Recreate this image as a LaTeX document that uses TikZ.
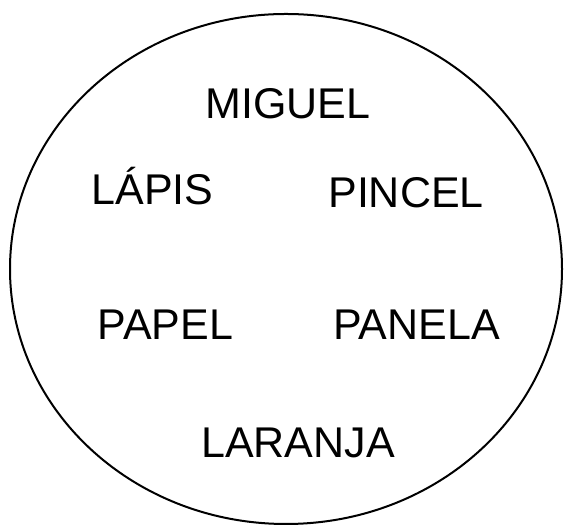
\documentclass[tikz,border=0pt]{standalone}
\usepackage{fontspec}
\setmainfont{Liberation Sans}
\begin{document}
\begin{tikzpicture}[x=1pt,y=1pt,
  word/.style={anchor=base,inner sep=0pt,font=\fontsize{43}{50}\selectfont}]
\useasboundingbox (0,0) rectangle (565,526);
\draw[line width=2pt] (286,257) ellipse [x radius=276, y radius=255];
\node[word] (miguel) at (288,407) {MIGUEL};
\node[word] (lapis) at (152.5,321) {LÁPIS};
\node[word] (pincel) at (406,318) {PINCEL};
\node[word] (papel) at (165.5,186) {PAPEL};
\node[word] (panela) at (416.5,186) {PANELA};
\node[word] (laranja) at (298,68) {LARANJA};
\end{tikzpicture}
\end{document}
